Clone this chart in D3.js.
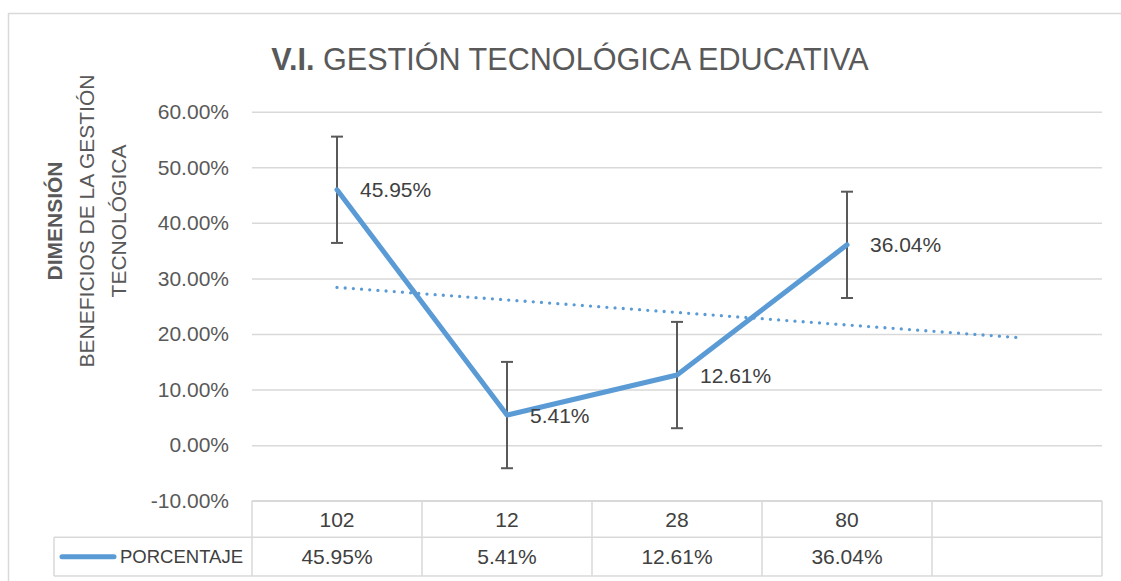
<!doctype html>
<html>
<head>
  <meta charset="utf-8">
  <script src="https://cdn.jsdelivr.net/npm/d3@7"></script>
  <style>
    body { margin: 0; background: #fff; }
    svg { display: block; font-family: "Liberation Sans", Arial, sans-serif; }
    .grid line { stroke: #d9d9d9; stroke-width: 1.5; }
    .grid path { display: none; }
    .yaxis path, .yaxis line { display: none; }
    .yaxis text { fill: #595959; font-size: 21px; }
  </style>
</head>
<body>
<script>
  // chart data
  var categories = ["102", "12", "28", "80", ""];
  var seriesName = "PORCENTAJE";
  var values = [0.4595, 0.0541, 0.1261, 0.3604];
  var yTicks = [-0.1, 0, 0.1, 0.2, 0.3, 0.4, 0.5, 0.6];

  var W = 1121, H = 581;
  var plot = { left: 252, right: 1102, top: 111.7, bottom: 500.7 };

  var svg = d3.select("body").append("svg")
    .attr("width", W)
    .attr("height", H);

  // chart frame
  svg.append("rect")
    .attr("x", 8.5).attr("y", 13.5)
    .attr("width", 1125).attr("height", 600)
    .attr("fill", "none")
    .attr("stroke", "#d9d9d9")
    .attr("stroke-width", 1.5);

  var x = d3.scaleBand()
    .domain(d3.range(categories.length))
    .range([plot.left, plot.right]);

  var y = d3.scaleLinear()
    .domain([d3.min(yTicks), d3.max(yTicks)])
    .range([plot.bottom, plot.top]);

  // excel style percent, plain hyphen for negatives
  var pct = d3.format(".2%");
  var fmt = function (v) { return pct(v).replace("\u2212", "-"); };

  // gridlines
  svg.append("g")
    .attr("class", "grid")
    .attr("transform", "translate(" + plot.left + ",0)")
    .call(d3.axisLeft(y).tickValues(yTicks).tickSize(-(plot.right - plot.left)).tickFormat(""));

  // y tick labels
  svg.append("g")
    .attr("class", "yaxis")
    .attr("transform", "translate(" + plot.left + ",0)")
    .call(d3.axisLeft(y).tickValues(yTicks).tickSize(0).tickPadding(23).tickFormat(fmt));

  // title
  var title = svg.append("text")
    .attr("x", 570).attr("y", 70)
    .attr("text-anchor", "middle")
    .attr("fill", "#595959")
    .style("font-size", "30.6px");
  title.append("tspan").attr("font-weight", "bold").text("V.I. ");
  title.append("tspan").text("GESTIÓN TECNOLÓGICA EDUCATIVA");

  // y axis title (three rotated lines)
  var yTitle = [
    { text: "DIMENSIÓN", bold: true, x: 55 },
    { text: "BENEFICIOS DE LA GESTIÓN", bold: false, x: 87 },
    { text: "TECNOLÓGICA", bold: false, x: 119 }
  ];
  svg.selectAll("text.ytitle")
    .data(yTitle)
    .join("text")
    .attr("class", "ytitle")
    .attr("transform", function (d) { return "translate(" + d.x + ",221) rotate(-90)"; })
    .attr("text-anchor", "middle")
    .attr("dy", "0.35em")
    .attr("fill", "#595959")
    .attr("font-weight", function (d) { return d.bold ? "bold" : null; })
    .style("font-size", "21px")
    .text(function (d) { return d.text; });

  var cx = function (i) { return x(i) + x.bandwidth() / 2; };

  // linear trendline (least squares on 1..n, extended one period forward)
  var n = values.length;
  var xs = d3.range(1, n + 1);
  var mx = d3.mean(xs), my = d3.mean(values);
  var slope = d3.sum(xs, function (v, i) { return (v - mx) * (values[i] - my); }) /
    d3.sum(xs, function (v) { return (v - mx) * (v - mx); });
  var trend = [0, categories.length - 1].map(function (i) {
    return [cx(i), y(my + slope * (i + 1 - mx))];
  });

  svg.append("path")
    .attr("d", d3.line()(trend))
    .attr("fill", "none")
    .attr("stroke", "#5b9bd5")
    .attr("stroke-width", 3.3)
    .attr("stroke-linecap", "round")
    .attr("stroke-dasharray", "0 8.2");

  // standard error bars
  var stdErr = Math.sqrt(d3.sum(values, function (v) { return (v - my) * (v - my); }) / (n * (n - 1)));
  var bars = svg.append("g")
    .attr("stroke", "#595959")
    .attr("stroke-width", 2)
    .selectAll("g")
    .data(values)
    .join("g");
  bars.append("line")
    .attr("x1", function (d, i) { return cx(i); })
    .attr("x2", function (d, i) { return cx(i); })
    .attr("y1", function (d) { return y(d + stdErr); })
    .attr("y2", function (d) { return y(d - stdErr); });
  [1, -1].forEach(function (s) {
    bars.append("line")
      .attr("x1", function (d, i) { return cx(i) - 6; })
      .attr("x2", function (d, i) { return cx(i) + 6; })
      .attr("y1", function (d) { return y(d + s * stdErr); })
      .attr("y2", function (d) { return y(d + s * stdErr); });
  });

  // series line
  svg.append("path")
    .datum(values)
    .attr("d", d3.line()
      .x(function (d, i) { return cx(i); })
      .y(function (d) { return y(d); }))
    .attr("fill", "none")
    .attr("stroke", "#5b9bd5")
    .attr("stroke-width", 5)
    .attr("stroke-linejoin", "round")
    .attr("stroke-linecap", "round");

  // data labels
  svg.selectAll("text.dlabel")
    .data(values)
    .join("text")
    .attr("class", "dlabel")
    .attr("x", function (d, i) { return cx(i) + 23; })
    .attr("y", function (d) { return y(d); })
    .attr("dy", "0.36em")
    .attr("fill", "#404040")
    .style("font-size", "21px")
    .text(fmt);

  // data table
  var rowTop = [500.7, 537.3, 576];
  var legendLeft = 54;
  var tbl = svg.append("g")
    .attr("fill", "none")
    .attr("stroke", "#d9d9d9")
    .attr("stroke-width", 1.5);
  tbl.append("line").attr("x1", plot.left).attr("x2", plot.right).attr("y1", rowTop[0]).attr("y2", rowTop[0]);
  tbl.append("line").attr("x1", legendLeft).attr("x2", plot.right).attr("y1", rowTop[1]).attr("y2", rowTop[1]);
  tbl.append("line").attr("x1", legendLeft).attr("x2", plot.right).attr("y1", rowTop[2]).attr("y2", rowTop[2]);
  tbl.append("line").attr("x1", legendLeft).attr("x2", legendLeft).attr("y1", rowTop[1]).attr("y2", rowTop[2]);
  tbl.selectAll("line.col")
    .data(d3.range(categories.length + 1))
    .join("line")
    .attr("class", "col")
    .attr("x1", function (i) { return i < categories.length ? x(i) : plot.right; })
    .attr("x2", function (i) { return i < categories.length ? x(i) : plot.right; })
    .attr("y1", rowTop[0])
    .attr("y2", rowTop[2]);

  svg.selectAll("text.cat")
    .data(categories)
    .join("text")
    .attr("class", "cat")
    .attr("x", function (d, i) { return cx(i); })
    .attr("y", (rowTop[0] + rowTop[1]) / 2)
    .attr("dy", "0.36em")
    .attr("text-anchor", "middle")
    .attr("fill", "#404040")
    .style("font-size", "21px")
    .text(function (d) { return d; });

  svg.selectAll("text.val")
    .data(values)
    .join("text")
    .attr("class", "val")
    .attr("x", function (d, i) { return cx(i); })
    .attr("y", (rowTop[1] + rowTop[2]) / 2)
    .attr("dy", "0.36em")
    .attr("text-anchor", "middle")
    .attr("fill", "#404040")
    .style("font-size", "21px")
    .text(fmt);

  // legend key in the table
  var keyY = (rowTop[1] + rowTop[2]) / 2;
  svg.append("line")
    .attr("x1", 62).attr("x2", 114)
    .attr("y1", keyY).attr("y2", keyY)
    .attr("stroke", "#5b9bd5")
    .attr("stroke-width", 5)
    .attr("stroke-linecap", "round");
  svg.append("text")
    .attr("x", 120).attr("y", keyY)
    .attr("dy", "0.36em")
    .attr("fill", "#404040")
    .style("font-size", "18.5px")
    .text(seriesName);
</script>
</body>
</html>
